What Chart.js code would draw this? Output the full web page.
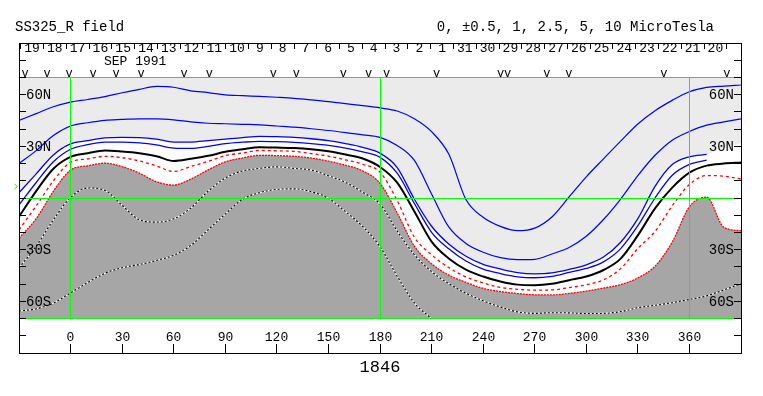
<!DOCTYPE html>
<html>
<head>
<meta charset="utf-8">
<script src="https://cdn.jsdelivr.net/npm/chart.js@4.4.1/dist/chart.umd.min.js"></script>
<style>
  html, body { margin: 0; padding: 0; background: #fff; }
  canvas { display: block; }
</style>
</head>
<body>
<canvas id="fieldChart" width="763" height="396"></canvas>
<script>
// longitude samples (deg), shared by every contour
const lon = [-30, -20, -10, 0, 10, 20, 30, 40, 50, 60, 70, 80, 90, 100, 110, 120, 130, 140, 150, 160, 170,
  180, 190, 200, 210, 220, 230, 240, 250, 260, 270, 280, 290, 300, 310, 320, 330, 340, 350, 360, 370, 380, 390];

// contour latitudes
const blue1 = [45, 49, 53, 55.7, 57.2, 58.9, 61.1, 63.1, 64.8, 64.3, 62.2, 61.2, 59.9, 59.4, 59, 58.5, 57.9, 57, 56, 54.8, 53.6,
  52.3, 50.5, 46, 38.5, 25.5, -0.9, -11.2, -16.5, -19, -17.5, -11, 0.6, 12.3, 22.7, 33, 43, 50.7, 56.7, 61.7, 64.2, 65, 65.6];
const blue2 = [20, 27.5, 36.3, 41.8, 43.7, 45.1, 45.6, 46, 46, 45.4, 44.2, 43.4, 43.1, 42.8, 42.5, 41.8, 41.1, 40.2, 39.2, 38, 36.7,
  35.2, 30.5, 21.8, 2.3, -16.8, -26.4, -31.5, -34.6, -35.8, -35.6, -32.5, -28.7, -22.2, -12.5, -0.6, 13, 24.8, 33.6, 38.6, 42.3, 44.2, 46];
const blue3 = [3, 14, 25, 31.4, 33.3, 34.9, 35.2, 35.1, 34.2, 32.5, 32.5, 33.3, 34.2, 35.1, 35.8, 35.6, 35.2, 34.4, 33.3, 31.6, 29.4,
  26, 17.7, -0.7, -16.4, -26.7, -33.8, -38.5, -41.2, -43.3, -44, -43.5, -41.5, -38.8, -34.3, -25.7, -12, 6.7, 19.4, 23.9, 25.3, null, null];
const blue4 = [-4, 9, 21, 28.3, 31, 32.4, 32.5, 32, 30.8, 29, 28.8, 30, 31.6, 32.4, 32.9, 32.7, 32.3, 31.6, 30.6, 29, 26.8,
  23.6, 14.4, -3.2, -19.9, -29.5, -36.6, -41.3, -43.9, -45.8, -46.3, -45.5, -43.2, -40.9, -37.1, -29.4, -16.1, 0, 13.2, 19.5, 22, null, null];
const black0 = [-10.8, 4, 17, 23.9, 26, 27.6, 27, 26, 24.3, 21.5, 22.8, 24.5, 26.8, 28.3, 29.5, 29.3, 29, 28.3, 27.1, 25.2, 22.9,
  18, 8.9, -7.8, -25.3, -35.1, -41.6, -45.6, -48.5, -50.3, -50.6, -49.8, -47.7, -45.6, -41.8, -35.2, -21.7, -6, 6, 14.7, 18.8, 20, 20.6];
const redDot = [-18.5, -4.6, 10, 20.7, 22.7, 24.2, 23.4, 21.5, 18.6, 15.4, 18.3, 21.3, 24.6, 26.1, 27.6, 27.4, 27.1, 25.8, 24.3, 22.1, 19.6,
  15, -1.5, -22.8, -33, -40.4, -45.8, -49.3, -51.9, -53, -53.5, -53.4, -52, -50.4, -47.5, -41, -29.3, -19.4, -4.5, 7.8, 13, 12.7, 11];
const redEdge = [-23.3, -12, 3.9, 16.2, 18.7, 20.2, 18.2, 14.4, 9.4, 7.5, 11, 16.3, 21, 23.2, 24.8, 24.6, 24.2, 23.2, 21.4, 19, 15.7,
  8.5, -8.7, -28, -38.2, -44.8, -49, -52.5, -54.3, -55.5, -56.2, -56.3, -55.4, -54.1, -52.3, -50.3, -46.4, -39.6, -25.6, -5.1, 0.5, -17, -19];
const dotUpper = [-40.6, -28, -12.7, 0.3, 5.8, 4.4, -4.3, -12.6, -14, -12.1, -5.8, 3.9, 11.6, 15.7, 17.2, 18.1, 17.2, 16.2, 12.9, 9.1, 3.3,
  -3.5, -19.2, -32.9, -42.7, -49.7, -55.3, -59.7, -63.3, -66.1, -67, -66.6, -66.7, -67.1, -67, -66, -63.7, -62.3, -60.8, -58.9, -56.8, -53.4, -49.8];
const dotLower = [-65.6, -64.3, -61, -55.1, -49.1, -43.7, -40.5, -38.6, -36.3, -33.2, -27.5, -18.5, -9.3, -0.8, 3.1, 5, 5.3, 3.6, -0.2, -8, -16.6,
  -28.3, -45.4, -60.9, -70, null, null, null, null, null, null, null, null, null, null, null, null, null, null, null, null, null, null];
// lower edge of the light grey shading
const greyEdge = [3, 14, 25, 31.4, 33.3, 34.9, 35.2, 35.1, 34.2, 32.5, 32.5, 33.3, 34.2, 35.1, 35.8, 35.6, 35.2, 34.4, 33.3, 31.6, 29.4,
  26, 17.7, -0.7, -16.4, -26.7, -33.8, -38.5, -41.2, -43.3, -44, -43.5, -41.5, -38.8, -34.3, -25.7, -12, 6.7, 19.4, 23.9, 25.3, 29, 32];

// axis labels
const lonTicks = [0, 30, 60, 90, 120, 150, 180, 210, 240, 270, 300, 330, 360];
const latTicks = [-80, -70, -60, -50, -40, -30, -20, -10, 0, 10, 20, 30, 40, 50, 60, 70, 80];
const latLabelValues = [60, 30, -30, -60];
const latLabels = ["60N", "30N", "30S", "60S"];
const dayLabels = ["19", "18", "17", "16", "15", "14", "13", "12", "11", "10", "9", "8", "7", "6", "5", "4", "3", "2", "1",
  "31", "30", "29", "28", "27", "26", "25", "24", "23", "22", "21", "20"];
const dayStartLon = -22.4;
const dayStepLon = 13.25;
const passLon = [-26.5, -13.7, -0.9, 13.1, 26.5, 41.1, 66.1, 80.7, 118, 131.4, 158.7, 173.3, 183.8, 212.9, 250.2, 254.3, 277, 289.8, 345.1, 381.8];

const MONO = "'Liberation Mono', 'DejaVu Sans Mono', monospace";

function pts(arr) {
  return lon.map((x, i) => ({ x: x, y: arr[i] }));
}

function lineSet(arr, color, width, dash, order) {
  return {
    data: pts(arr),
    borderColor: color,
    borderWidth: width,
    borderDash: dash || [],
    fill: false,
    order: order || 0
  };
}

const crisp = v => Math.floor(v + 0.01) + 0.5;

function seg(ctx, x1, y1, x2, y2) {
  ctx.beginPath();
  ctx.moveTo(x1, y1);
  ctx.lineTo(x2, y2);
  ctx.stroke();
}

const mapDecor = {
  id: "mapDecor",
  beforeDatasetsDraw(chart) {
    const { ctx, chartArea: a, scales: { y } } = chart;
    const top = y.getPixelForValue(70);
    const bot = y.getPixelForValue(-70);
    ctx.save();
    ctx.fillStyle = "#ebebeb";
    ctx.fillRect(a.left, top, a.right - a.left, bot - top);
    ctx.restore();
  },
  afterDatasetsDraw(chart) {
    const { ctx, chartArea: a, scales: { x, y } } = chart;
    const top70 = crisp(y.getPixelForValue(70));
    const bot70 = crisp(y.getPixelForValue(-70));
    ctx.save();

    // green reference lines
    ctx.strokeStyle = "#00ff00";
    ctx.lineWidth = 1;
    [70, 0, -70].forEach(lat => {
      const py = crisp(y.getPixelForValue(lat));
      seg(ctx, a.left, py, a.right, py);
    });
    [0, 180, 360].forEach(lo => {
      const px = crisp(x.getPixelForValue(lo));
      seg(ctx, px, top70, px, bot70);
    });
    seg(ctx, 14.5, 184, 17.5, 186.5);
    seg(ctx, 17.5, 186.5, 14.5, 189);

    // frame
    ctx.strokeStyle = "#000";
    ctx.strokeRect(crisp(a.left), crisp(a.top), Math.round(a.right - a.left), Math.round(a.bottom - a.top));

    // latitude ticks and labels
    ctx.fillStyle = "#000";
    latTicks.forEach(lat => {
      const py = crisp(y.getPixelForValue(lat));
      seg(ctx, a.left, py, a.left + 7, py);
      seg(ctx, a.right - 7, py, a.right, py);
    });
    ctx.font = "14px " + MONO;
    ctx.textBaseline = "middle";
    latLabelValues.forEach((lat, i) => {
      const py = y.getPixelForValue(lat) + 1;
      ctx.textAlign = "left";
      ctx.fillText(latLabels[i], a.left + 7, py);
      ctx.textAlign = "right";
      ctx.fillText(latLabels[i], a.right - 7, py);
    });

    // longitude ticks and labels
    ctx.font = "13px " + MONO;
    ctx.textAlign = "center";
    lonTicks.forEach(lo => {
      const px = crisp(x.getPixelForValue(lo));
      seg(ctx, px, a.bottom, px, a.bottom - 9);
      ctx.fillText(String(lo), px, 338);
    });

    // day row along the top
    const half = dayStepLon / 2;
    dayLabels.forEach((d, i) => {
      const c = dayStartLon + i * dayStepLon;
      const pc = x.getPixelForValue(c);
      const pb = crisp(x.getPixelForValue(c - half));
      seg(ctx, pb, a.top, pb, a.top + 6);
      ctx.fillText(d, pc, 49);
    });
    const pend = crisp(x.getPixelForValue(dayStartLon + (dayLabels.length - 1) * dayStepLon + half));
    seg(ctx, pend, a.top, pend, a.top + 6);

    ctx.textAlign = "left";
    ctx.fillText("SEP 1991", 104, 62);

    // pass markers
    ctx.font = "12px " + MONO;
    ctx.textBaseline = "alphabetic";
    ctx.textAlign = "center";
    passLon.forEach(lo => {
      ctx.fillText("v", x.getPixelForValue(lo), 77);
    });

    // titles
    ctx.font = "14px " + MONO;
    ctx.textBaseline = "middle";
    ctx.textAlign = "left";
    ctx.fillText("SS325_R field", 15, 27);
    ctx.textAlign = "right";
    ctx.fillText("0, \u00b10.5, 1, 2.5, 5, 10 MicroTesla", 714, 27);
    ctx.font = "17px " + MONO;
    ctx.textAlign = "center";
    ctx.fillText("1846", x.getPixelForValue(180), 367);

    ctx.restore();
  }
};

const datasets = [
  lineSet(blue1, "#0000ff", 1.2),
  lineSet(blue2, "#0000ff", 1.2),
  lineSet(blue3, "#0000ff", 1.3),
  lineSet(blue4, "#0000ff", 1.3),
  lineSet(black0, "#000000", 2),
  lineSet(redDot, "#ff0000", 1.3, [3, 3]),
  lineSet(redEdge, "#ff0000", 1.3, [2, 1]),
  lineSet(dotUpper, "#000000", 1.1, [2, 2], 1),
  lineSet(dotUpper, "#ffffff", 1.1, null, 2),
  lineSet(dotLower, "#000000", 1.1, [2, 2], 1),
  lineSet(dotLower, "#ffffff", 1.1, null, 2),
  {
    data: pts(greyEdge),
    borderWidth: 0,
    borderColor: "rgba(0,0,0,0)",
    backgroundColor: "#ffffff",
    fill: 12,
    order: 20
  },
  {
    data: pts(redEdge),
    borderWidth: 0,
    borderColor: "rgba(0,0,0,0)",
    backgroundColor: "#a6a6a6",
    fill: { value: -70 },
    order: 19
  }
];

new Chart(document.getElementById("fieldChart"), {
  type: "line",
  data: { datasets: datasets },
  options: {
    responsive: false,
    animation: false,
    devicePixelRatio: 1,
    layout: { padding: { left: 19, right: 22, top: 43, bottom: 43 } },
    scales: {
      x: { type: "linear", min: -30, max: 390, display: false },
      y: { type: "linear", min: -90, max: 90, display: false }
    },
    plugins: { legend: { display: false }, tooltip: { enabled: false } },
    elements: {
      point: { radius: 0, hoverRadius: 0 },
      line: { cubicInterpolationMode: "monotone" }
    }
  },
  plugins: [mapDecor]
});
</script>
</body>
</html>
